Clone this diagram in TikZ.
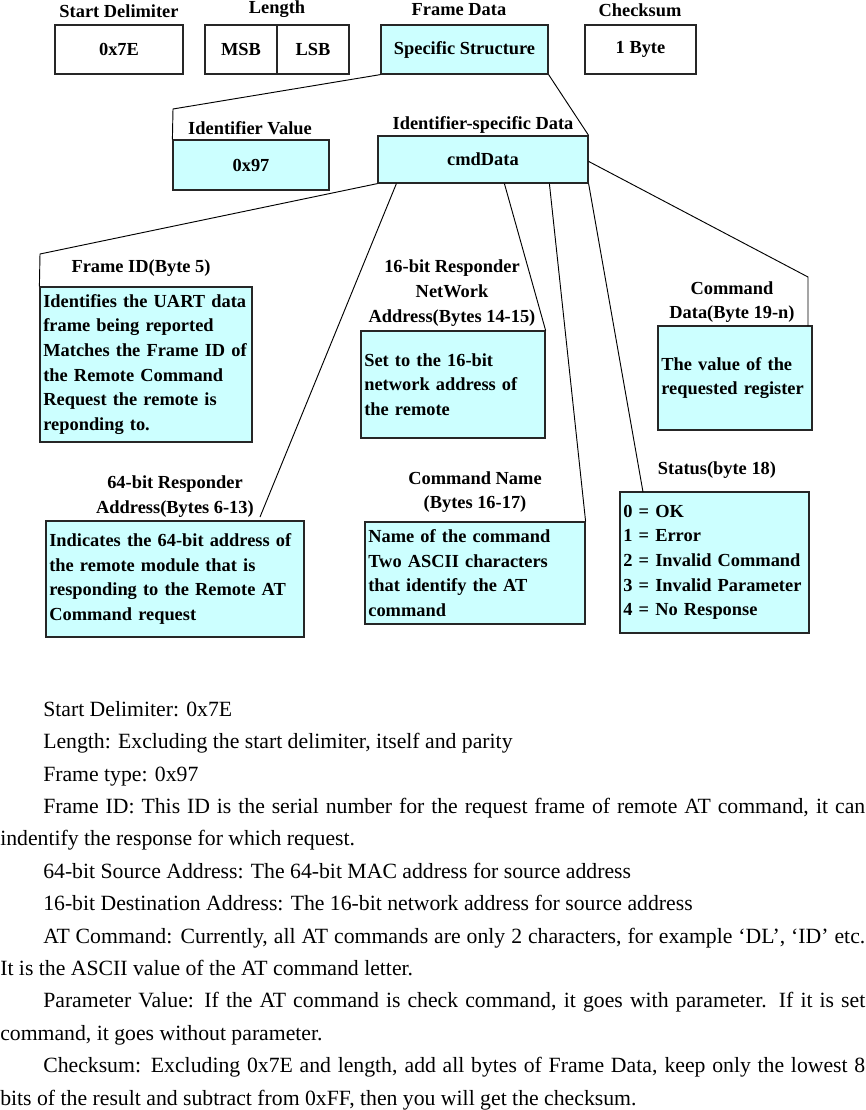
\documentclass[tikz,border=0pt]{standalone}
\usepackage{fontspec}
\setmainfont{Liberation Serif}
\usetikzlibrary{calc}

\definecolor{boxcyan}{RGB}{204,255,255}

\begin{document}
\begin{tikzpicture}[x=0.75pt,y=-0.75pt,
  every node/.style={font=\fontsize{13.8}{18.5}\selectfont\bfseries},
  field/.style={draw=black!85,line width=0.9pt,minimum height=36.75pt,inner sep=0pt},
  cfield/.style={field,fill=boxcyan},
  info/.style={draw=black!85,line width=0.9pt,fill=boxcyan,align=left,inner xsep=2.5pt,inner ysep=0pt},
  title/.style={align=center,inner sep=0pt},
  link/.style={line width=0.7pt}]
  \useasboundingbox (0,0) rectangle (865,1110);

  % frame fields
  \node[field,minimum width=96pt] (sd) at (119,49.5) {0x7E};
  \node[field,minimum width=54pt] (msb) at (241,49.5) {MSB};
  \node[field,minimum width=54pt] (lsb) at (313,49.5) {LSB};
  \node[cfield,minimum width=125.25pt] (fd) at (464.5,49.5) {Specific Structure};
  \node[field,minimum width=83.25pt] (cs) at (640.5,49.5) {1 Byte};
  \node[title] (sdt) at (119,11) {Start Delimiter};
  \node[title] (lent) at (277,9) {Length};
  \node[title] (fdt) at (459,10) {Frame Data};
  \node[title] (cst) at (640,10) {Checksum};

  % frame data
  \node[cfield,minimum width=117pt,minimum height=37.5pt] (idv) at (251,165) {0x97};
  \node[cfield,minimum width=157.5pt,minimum height=35.25pt] (isd) at (483,159.5) {cmdData};
  \node[title] (idvt) at (250,128) {Identifier Value};
  \node[title] (isdt) at (483,125) {Identifier-specific Data};

  % cmdData fields
  \node[info,text width=154pt,minimum height=116.25pt] (fid) at (146,364.5)
    {Identifies the UART data\\frame being reported\\Matches the Frame ID of\\the Remote Command\\Request the remote is\\reponding to.};
  \node[info,text width=133pt,minimum height=80.25pt] (nwa) at (453,384.5)
    {Set to the 16-bit\\network address of\\the remote};
  \node[info,text width=110.5pt,minimum height=78pt] (cdat) at (735,378)
    {The value of the\\requested register};
  \node[info,text width=188.5pt,minimum height=87pt] (rad) at (175,579)
    {Indicates the 64-bit address of\\the remote module that is\\responding to the Remote AT\\Command request};
  \node[info,text width=160pt,minimum height=76.5pt] (cmn) at (475,573)
    {Name of the command\\Two ASCII characters\\that identify the AT\\command};
  \node[info,text width=136.75pt,minimum height=105.75pt] (st) at (714.5,562.5)
    {0 = OK\\1 = Error\\2 = Invalid Command\\3 = Invalid Parameter\\4 = No Response};

  \node[title] (fidt) at (141,268) {Frame ID(Byte 5)};
  \node[title] (nwat) at (452,293) {16-bit Responder\\NetWork\\Address(Bytes 14-15)};
  \node[title] (cdatt) at (732,302) {Command\\Data(Byte 19-n)};
  \node[title] (radt) at (175,496.5) {64-bit Responder\\Address(Bytes 6-13)};
  \node[title] (cmnt) at (475,492) {Command Name\\(Bytes 16-17)};
  \node[title] (stt) at (717,470) {Status(byte 18)};

  % connectors
  \coordinate (k1) at (173,109);
  \coordinate (k2) at (40,254);
  \coordinate (k3) at (808,277);
  \coordinate (k4) at (808,326);
  \coordinate (radend) at (260,517);
  \coordinate (stend) at (643,492);
  \draw[link] (fd.south west) -- (k1) -- (idv.north west);
  \draw[link] (fd.south east) -- (isd.north east);
  \draw[link] (isd.south west) -- (k2) -- (fid.north west);
  \draw[link] ($(isd.south west)+(19,0)$) -- (radend);
  \draw[link] ($(isd.south west)+(127,0)$) -- (nwa.north east);
  \draw[link] ($(isd.south west)+(172,0)$) -- (cmn.north east);
  \draw[link] (isd.south east) -- (stend);
  \draw[link] ($(isd.north east)+(0,26)$) -- (k3) -- (k4);

  % notes
  \node[anchor=north west,inner sep=0pt,text width=648.75pt,align=justify,
    font=\fontsize{16.3}{24.3}\selectfont] (notes) at (0,701)
    {\parindent=32.25pt\indent Start Delimiter: 0x7E\par
     Length: Excluding the start delimiter, itself and parity\par
     Frame type: 0x97\par
     Frame ID: This ID is the serial number for the request frame of remote AT command, it can\linebreak
     indentify the response for which request.\par
     64-bit Source Address: The 64-bit MAC address for source address\par
     16-bit Destination Address: The 16-bit network address for source address\par
     AT Command: Currently, all AT commands are only 2 characters, for example ‘DL’, ‘ID’ etc.\linebreak
     It is the ASCII value of the AT command letter.\par
     Parameter Value: If the AT command is check command, it goes with parameter. If it is set\linebreak
     command, it goes without parameter.\par
     Checksum: Excluding 0x7E and length, add all bytes of Frame Data, keep only the lowest 8\linebreak
     bits of the result and subtract from 0xFF, then you will get the checksum.};
\end{tikzpicture}
\end{document}
